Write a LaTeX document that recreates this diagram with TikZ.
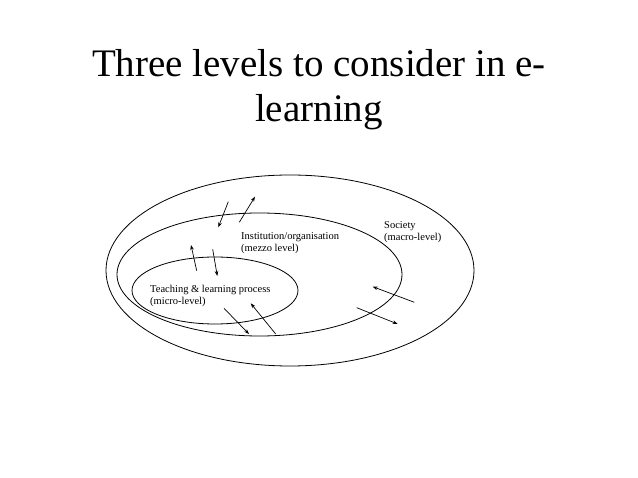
\documentclass[tikz,border=0pt]{standalone}
\usepackage{fontspec}
\setmainfont{Liberation Serif}
\usetikzlibrary{arrows.meta,shapes.geometric}
\begin{document}
\begin{tikzpicture}[x=1pt,y=-1pt,
  ring/.style={draw,line width=0.8pt},
  lbl/.style={anchor=base west,align=left,font=\fontsize{10.5}{12}\selectfont,inner sep=0pt},
  flow/.style={line width=0.7pt,-{Stealth[length=5pt,width=3.6pt]}}]
\useasboundingbox (0,0) rectangle (638,478);
\node[font=\fontsize{39}{45}\selectfont,align=center,anchor=base,inner sep=0pt] (title) at (319,122) {Three levels to consider in e-\\learning};
\draw[ring] (290,270.5) ellipse [x radius=184, y radius=95.5];
\draw[ring] (259.5,274.5) ellipse [x radius=142.5, y radius=61.5];
\draw[ring] (215,290.5) ellipse [x radius=83, y radius=33.5];
\node[lbl] (soc) at (384,241) {Society\\(macro-level)};
\node[lbl] (inst) at (241,251.5) {Institution/organisation\\(mezzo level)};
\node[lbl] (teach) at (150,304.5) {Teaching \& learning process\\(micro-level)};
\coordinate (a1s) at (228.3,201.7); \coordinate (a1e) at (218.3,227.3);
\coordinate (a2s) at (239.3,222.3); \coordinate (a2e) at (255,196.7);
\coordinate (a3s) at (196.7,270.7); \coordinate (a3e) at (191,245);
\coordinate (a4s) at (212.7,249.3); \coordinate (a4e) at (217.3,276);
\coordinate (a5s) at (224,308.3);   \coordinate (a5e) at (249,334);
\coordinate (a6s) at (275.7,334);   \coordinate (a6e) at (250.7,303.3);
\coordinate (a7s) at (414.3,302.3); \coordinate (a7e) at (372.7,286.7);
\coordinate (a8s) at (356.7,307.7); \coordinate (a8e) at (397.7,324);
\foreach \i in {1,...,8} \draw[flow] (a\i s) -- (a\i e);
\end{tikzpicture}
\end{document}
